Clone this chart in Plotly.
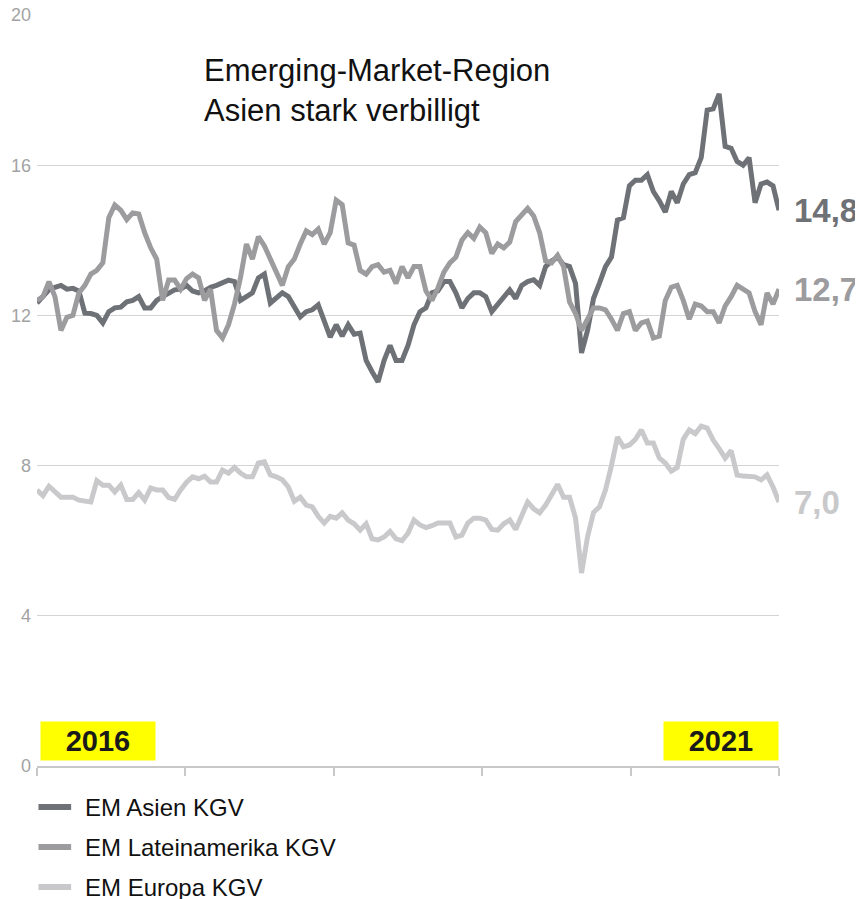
import numpy as np
import plotly.graph_objects as go

# KGV (price/earnings) readings, roughly every 2 weeks, 2016 -> 2021
asien = [12.33, 12.5, 12.68, 12.75, 12.8, 12.7, 12.72, 12.65, 12.06, 12.05,
         12.0, 11.8, 12.1, 12.2, 12.22, 12.36, 12.4, 12.5, 12.2, 12.2,
         12.4, 12.5, 12.6, 12.68, 12.7, 12.8, 12.65, 12.6, 12.65, 12.75,
         12.8, 12.88, 12.94, 12.9, 12.4, 12.5, 12.6, 13.0, 13.1, 12.33,
         12.45, 12.6, 12.5, 12.2, 11.96, 12.1, 12.15, 12.28, 11.8, 11.42,
         11.75, 11.45, 11.75, 11.5, 11.53, 10.8, 10.5, 10.23, 10.8, 11.2,
         10.8, 10.8, 11.2, 11.75, 12.1, 12.2, 12.6, 12.65, 12.9, 12.9,
         12.6, 12.2, 12.45, 12.6, 12.6, 12.5, 12.1, 12.3, 12.45, 12.68,
         12.45, 12.8, 12.9, 12.95, 12.8, 13.3, 13.45, 13.55, 13.35, 13.3,
         12.85, 11.0, 11.6, 12.45, 12.86, 13.3, 13.55, 14.54, 14.6, 15.45,
         15.6, 15.6, 15.75, 15.3, 15.05, 14.75, 15.3, 15.0, 15.5, 15.75,
         15.8, 16.2, 17.47, 17.5, 17.9, 16.5, 16.45, 16.1, 16.0, 16.2,
         15.0, 15.5, 15.55, 15.45, 14.8]

lateinamerika = [12.4, 12.5, 12.9, 12.5, 11.6, 11.95, 12.0, 12.6, 12.8, 13.1,
                 13.2, 13.4, 14.6, 14.94, 14.8, 14.55, 14.73, 14.7, 14.2, 13.8,
                 13.5, 12.4, 12.94, 12.94, 12.7, 12.98, 13.1, 13.0, 12.4, 12.7,
                 11.6, 11.4, 11.75, 12.3, 13.0, 13.9, 13.5, 14.1, 13.85, 13.5,
                 13.2, 12.8, 13.3, 13.5, 13.9, 14.25, 14.15, 14.3, 13.9, 14.2,
                 15.07, 14.95, 13.93, 13.87, 13.2, 13.1, 13.3, 13.35, 13.15, 13.2,
                 12.85, 13.3, 13.0, 13.3, 13.3, 12.65, 12.4, 12.73, 13.15, 13.4,
                 13.55, 14.0, 14.2, 14.05, 14.35, 14.2, 13.65, 13.9, 13.8, 13.95,
                 14.5, 14.7, 14.85, 14.65, 14.2, 13.45, 13.4, 13.6, 13.3, 12.36,
                 12.05, 11.6, 11.9, 12.2, 12.2, 12.15, 11.9, 11.6, 12.05, 12.1,
                 11.6, 11.8, 11.85, 11.4, 11.45, 12.4, 12.75, 12.8, 12.4, 11.9,
                 12.3, 12.25, 12.1, 12.1, 11.8, 12.25, 12.5, 12.8, 12.7, 12.6,
                 12.1, 11.75, 12.6, 12.3, 12.7]

europa = [7.35, 7.2, 7.45, 7.3, 7.16, 7.16, 7.16, 7.08, 7.05, 7.03,
          7.6, 7.48, 7.48, 7.3, 7.48, 7.1, 7.1, 7.28, 7.08, 7.4,
          7.35, 7.35, 7.15, 7.1, 7.35, 7.56, 7.7, 7.65, 7.72, 7.56,
          7.56, 7.88, 7.8, 7.95, 7.8, 7.7, 7.7, 8.07, 8.1, 7.75,
          7.7, 7.62, 7.43, 7.05, 7.16, 6.95, 6.9, 6.65, 6.47, 6.65,
          6.6, 6.74, 6.55, 6.45, 6.28, 6.45, 6.05, 6.02, 6.1, 6.25,
          6.05, 6.0, 6.2, 6.55, 6.42, 6.35, 6.4, 6.47, 6.47, 6.47,
          6.1, 6.15, 6.47, 6.6, 6.6, 6.55, 6.3, 6.28, 6.45, 6.55,
          6.3, 6.7, 7.03, 6.85, 6.74, 6.95, 7.2, 7.5, 7.16, 7.16,
          6.6, 5.14, 6.1, 6.75, 6.9, 7.35, 8.0, 8.76, 8.5, 8.55,
          8.7, 8.95, 8.6, 8.6, 8.2, 8.07, 7.85, 7.95, 8.7, 8.95,
          8.85, 9.05, 9.0, 8.68, 8.45, 8.2, 8.4, 7.75, 7.72, 7.7,
          7.7, 7.62, 7.75, 7.43, 7.03]

start_year, end_year = 2016, 2021
x = np.linspace(start_year, end_year, len(asien))

series = [
    ("EM Asien KGV", asien, "#6e7176"),
    ("EM Lateinamerika KGV", lateinamerika, "#9c9b9d"),
    ("EM Europa KGV", europa, "#c9c9cb"),
]

FONT = "Liberation Sans, Arial, Helvetica, sans-serif"

fig = go.Figure()
for i, (name, vals, color) in enumerate(series):
    fig.add_trace(go.Scatter(
        x=x, y=vals, mode="lines", name=name,
        line=dict(color=color, width=5),
    ))
    # end-value label
    fig.add_annotation(
        x=x[-1], y=vals[-1], text=f"{vals[-1]:.1f}".replace(".", ","),
        xanchor="left", yanchor="middle", xshift=13, showarrow=False,
        font=dict(family=FONT, size=33, color=color, weight="bold"),
    )
    # legend row below the chart (drawn by hand so it is not clipped)
    ly = -0.0546 - i * 0.0533
    fig.add_shape(type="line", xref="paper", yref="paper",
                  x0=0.002, x1=0.046, y0=ly, y1=ly,
                  line=dict(color=color, width=6))
    fig.add_annotation(
        xref="paper", yref="paper", x=0.062, y=ly, text=name,
        xanchor="left", yanchor="middle", showarrow=False,
        font=dict(family=FONT, size=24, color="#111111"),
    )

fig.add_annotation(
    xref="paper", yref="paper", x=0.222, y=0.9,
    text="Emerging-Market-Region<br>Asien stark verbilligt",
    xanchor="left", yanchor="middle", align="left", showarrow=False,
    font=dict(family=FONT, size=31, color="#111111"),
)

for yr, xp, anchor in [(start_year, 0.004, "left"), (end_year, 1.0, "right")]:
    fig.add_annotation(
        xref="paper", yref="paper", x=xp, y=0.0333, text=str(yr),
        xanchor=anchor, yanchor="middle", showarrow=False,
        width=106, height=30, borderpad=4, bgcolor="#ffff00",
        font=dict(family=FONT, size=29, color="#1a1a1a", weight="bold"),
    )

fig.update_xaxes(
    range=[start_year, end_year], showgrid=False, zeroline=False,
    showline=True, linecolor="#c8c8c8", linewidth=1.5,
    ticks="outside", ticklen=8, tickcolor="#c8c8c8", tickwidth=1.5,
    tickvals=list(range(start_year, end_year + 1)), showticklabels=False,
)
fig.update_yaxes(
    range=[0, 20], dtick=4, showgrid=True, gridcolor="#d4d4d4", gridwidth=1,
    zeroline=False, showline=False, ticks="", automargin=False,
    ticklabelstandoff=5, ticklabeloverflow="allow",
    tickfont=dict(family=FONT, size=18, color="#a3a3a3"),
)

# the page adds ~8px body margin, so the figure is sized to fit inside it
fig.update_layout(
    width=855, height=891,
    margin=dict(l=29, r=84, t=7, b=133, autoexpand=False),
    plot_bgcolor="white", paper_bgcolor="white",
    showlegend=False,
)

fig.write_html("out.html")
